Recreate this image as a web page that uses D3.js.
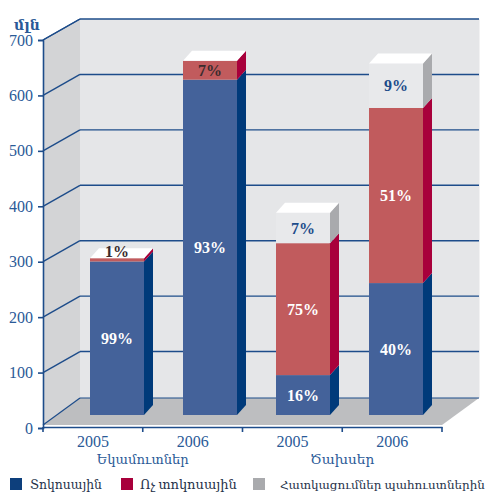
<!DOCTYPE html>
<html>
<head>
<meta charset="utf-8">
<script src="https://cdn.jsdelivr.net/npm/d3@7"></script>
<style>
  html, body { margin: 0; padding: 0; background: #ffffff; }
  svg { display: block; }
</style>
</head>
<body>
<svg id="chart" width="493" height="496"></svg>
<script>
// ---- data ----
const categories = ["2005", "2006", "2005", "2006"];
const groups = ["Եկամուտներ", "Ծախսեր"];
const seriesNames = ["Տոկոսային", "Ոչ տոկոսային", "Հատկացումներ պահուստներին"];
const interest = [277, 605, 72, 238];
const nonInterest = [6, 34, 238, 316];
const provisions = [0, 0, 55, 80];
const interestLabels = ["99%", "93%", "16%", "40%"];
const nonInterestLabels = ["1%", "7%", "75%", "51%"];
const provisionLabels = ["", "", "7%", "9%"];
const yTicks = [0, 100, 200, 300, 400, 500, 600, 700];
const unitLabel = "մլն";

// ---- styles ----
const serif = "'Liberation Serif','DejaVu Serif','Times New Roman',serif";
const axisColor = "#1d4c8a";
const textColor = "#2a5a97";
const frontColors = ["#44629a", "#c15b5d", "#e8e9eb"];
const sideColors = ["#003a7a", "#a8003b", "#a9aaad"];
const legendColors = ["#0d3f7c", "#a8003b", "#a9aaad"];

const svg = d3.select("#chart");

// shrink a text's font until its natural width fits maxW
function fitText(sel, baseSize, maxW) {
  sel.attr("font-size", baseSize);
  const w = sel.node().getComputedTextLength();
  if (w > maxW) sel.attr("font-size", (baseSize * maxW / w).toFixed(2));
}

// geometry
const X0 = 43, X1 = 442;
const DX = 37, DY = -21;          // wall depth
const FDY = -27;                  // floor depth
const BDX = 9, BDY = -10;         // bar depth
const y = d3.scaleLinear().domain([0, 700]).range([428, 40]);
const yBar = d3.scaleLinear().domain([0, 700]).range([415, 27]);
const xBand = d3.scaleBand().domain(d3.range(categories.length)).range([X0, X1]);
const xBar = d3.scalePoint().domain(d3.range(categories.length)).range([117, 396]);
const barW = 54;

// ---- walls ----
const floorFrontY = y(0) - 3;
svg.append("polygon")
  .attr("points", [[X0 + DX, y(700) + DY], [X1 + DX + 0.5, y(700) + DY], [X1 + DX + 0.5, floorFrontY + FDY], [X0 + DX, floorFrontY + FDY]].join(" "))
  .attr("fill", "#e5e6e8");
svg.append("polygon")
  .attr("points", [[X0, y(700)], [X0 + DX, y(700) + DY], [X0 + DX, floorFrontY + FDY], [X0, floorFrontY]].join(" "))
  .attr("fill", "#d3d4d6");

// gridlines
const gridVals = yTicks.filter(v => v > 0);
svg.append("g").selectAll("line.back").data(gridVals).join("line")
  .attr("x1", X0 + DX).attr("x2", X1 + DX)
  .attr("y1", d => y(d) + DY).attr("y2", d => y(d) + DY)
  .attr("stroke", axisColor).attr("stroke-width", 1.4);
svg.append("g").selectAll("line.side").data(gridVals).join("line")
  .attr("x1", X0).attr("x2", X0 + DX)
  .attr("y1", d => y(d)).attr("y2", d => y(d) + DY)
  .attr("stroke", axisColor).attr("stroke-width", 1.4);

// floor
svg.append("polygon")
  .attr("points", [[X0, floorFrontY], [X0 + DX, floorFrontY + FDY], [X1 + DX, floorFrontY + FDY], [X1, floorFrontY]].join(" "))
  .attr("fill", "#bdbec0");
svg.append("line")
  .attr("x1", X0 + DX).attr("x2", X1 + DX)
  .attr("y1", floorFrontY + FDY).attr("y2", floorFrontY + FDY)
  .attr("stroke", axisColor).attr("stroke-width", 1.2);
svg.append("line")
  .attr("x1", X0).attr("x2", X0 + DX)
  .attr("y1", floorFrontY).attr("y2", floorFrontY + FDY)
  .attr("stroke", axisColor).attr("stroke-width", 1.2);

// ---- bars ----
const series = [interest, nonInterest, provisions];
const seriesLabels = [interestLabels, nonInterestLabels, provisionLabels];
const bars = categories.map((c, i) => {
  let acc = 0;
  const segs = series.map((s, k) => {
    const seg = { k, v0: acc, v1: acc + s[i], label: seriesLabels[k][i] };
    acc += s[i];
    return seg;
  });
  return { i, segs, total: acc };
});

const gBars = svg.append("g");
bars.forEach(b => {
  const xl = xBar(b.i) - barW / 2, xr = xl + barW;
  const g = gBars.append("g");
  b.segs.filter(s => s.v1 > s.v0).forEach(s => {
    const yt = yBar(s.v1), yb = yBar(s.v0);
    g.append("rect").attr("x", xl).attr("y", yt).attr("width", barW).attr("height", yb - yt)
      .attr("fill", frontColors[s.k]);
    g.append("polygon")
      .attr("points", [[xr, yb], [xr + BDX, yb + BDY], [xr + BDX, yt + BDY], [xr, yt]].join(" "))
      .attr("fill", sideColors[s.k]);
  });
  const yt = yBar(b.total);
  g.append("polygon")
    .attr("points", [[xl, yt], [xl + BDX, yt + BDY], [xr + BDX, yt + BDY], [xr, yt]].join(" "))
    .attr("fill", "#ffffff");
  // labels
  b.segs.filter(s => s.label).forEach(s => {
    const yt2 = yBar(s.v1), yb2 = yBar(s.v0);
    const h = yb2 - yt2;
    let ly = (yt2 + yb2) / 2;
    let col = "#ffffff";
    if (s.k === 2) col = axisColor;
    else if (h < 22) col = "#3a2c2e";
    if (h < 10) ly = yt2 - 7;
    g.append("text")
      .attr("x", xl + barW / 2).attr("y", ly)
      .attr("dy", "0.35em")
      .attr("text-anchor", "middle")
      .attr("font-family", serif).attr("font-weight", "bold").attr("font-size", 16)
      .attr("fill", col)
      .text(s.label);
  });
});

// ---- axes ----
const yAxis = d3.axisLeft(y).tickValues(yTicks).tickSize(5).tickPadding(5).tickFormat(d3.format("d"));
const gy = svg.append("g").attr("transform", `translate(${X0},0)`).call(yAxis);
gy.select(".domain").attr("stroke", axisColor).attr("stroke-width", 1.6);
gy.selectAll(".tick line").attr("stroke", axisColor).attr("stroke-width", 1.6);
gy.selectAll(".tick text").attr("fill", textColor).attr("font-family", serif).attr("font-size", 16);
// left wall top edge
svg.append("line").attr("x1", X0).attr("y1", y(700)).attr("x2", X0 + DX).attr("y2", y(700) + DY)
  .attr("stroke", axisColor).attr("stroke-width", 1.4);

const xAxisY = y(0) - 1;
const xAxis = d3.axisBottom(xBand).tickSize(0).tickPadding(9).tickFormat(i => categories[i]);
const gx = svg.append("g").attr("transform", `translate(0,${xAxisY})`).call(xAxis);
gx.select(".domain").attr("stroke", axisColor).attr("stroke-width", 1.6);
gx.selectAll(".tick text").attr("fill", textColor).attr("font-family", serif).attr("font-size", 16);
const boundaries = d3.range(categories.length + 1).map(i => i < categories.length ? xBand(i) : xBand(i - 1) + xBand.bandwidth());
gx.append("g").selectAll("line").data(boundaries).join("line")
  .attr("x1", d => d).attr("x2", d => d).attr("y1", 0).attr("y2", 5)
  .attr("stroke", axisColor).attr("stroke-width", 1.6);

// group labels
const groupWidths = [92, 64];
groups.forEach((gname, gi) => {
  const t = svg.append("text")
    .attr("x", xBand(gi * 2) + xBand.bandwidth())
    .attr("y", 464)
    .attr("text-anchor", "middle")
    .attr("font-family", serif)
    .attr("fill", textColor)
    .text(gname);
  fitText(t, 16, groupWidths[gi]);
});

// unit label
svg.append("text").attr("x", 27).attr("y", 30).attr("text-anchor", "middle")
  .attr("font-family", serif).attr("font-weight", "bold").attr("font-size", 14)
  .attr("fill", textColor).text(unitLabel);

// ---- legend ----
const legendX = [10, 121, 253];
const legendTextX = [30, 140, 280];
const legendWidths = [72, 97, 205];
const lg = svg.append("g");
seriesNames.forEach((n, k) => {
  lg.append("rect").attr("x", legendX[k]).attr("y", 478).attr("width", 12).attr("height", 12)
    .attr("fill", legendColors[k]);
  const t = lg.append("text").attr("x", legendTextX[k]).attr("y", 489)
    .attr("font-family", serif)
    .attr("fill", "#26324a").text(n);
  fitText(t, 14, legendWidths[k]);
});
</script>
</body>
</html>
